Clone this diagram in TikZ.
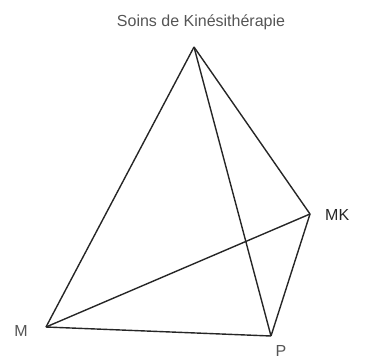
\documentclass[tikz,border=0pt]{standalone}
\usepackage{fontspec}
\setmainfont{Liberation Sans}
\usepackage{xcolor}
\usetikzlibrary{positioning}
\definecolor{edgegray}{HTML}{262626}
\definecolor{labgray}{HTML}{555555}
\tikzset{
  edge/.style={draw=edgegray, line width=1.4pt, line join=round},
  vlab/.style={font=\fontsize{16}{19}\selectfont, text=labgray, inner sep=0pt},
}

\begin{document}
\begin{tikzpicture}[x=1pt, y=-1pt]
    \useasboundingbox (0,0) rectangle (374,361);
    \coordinate (sk) at (194,47);
    \coordinate (mk) at (310,214);
    \coordinate (m)  at (46,327);
    \coordinate (p)  at (271,336);
    \node[vlab] (sklab) at (201,22) {Soins de Kinésithérapie};
    \node[vlab, text=edgegray, anchor=west] (mklab) at (325,215) {MK};
    \node[vlab] (mlab) at (21,331) {M};
    \node[vlab] (plab) at (281,351) {P};
    \draw[edge] (sk) -- (m);
    \draw[edge] (sk) -- (mk);
    \draw[edge] (sk) -- (p);
    \draw[edge] (m) -- (mk);
    \draw[edge] (m) -- (p);
    \draw[edge] (p) -- (mk);
  \end{tikzpicture}
\end{document}
